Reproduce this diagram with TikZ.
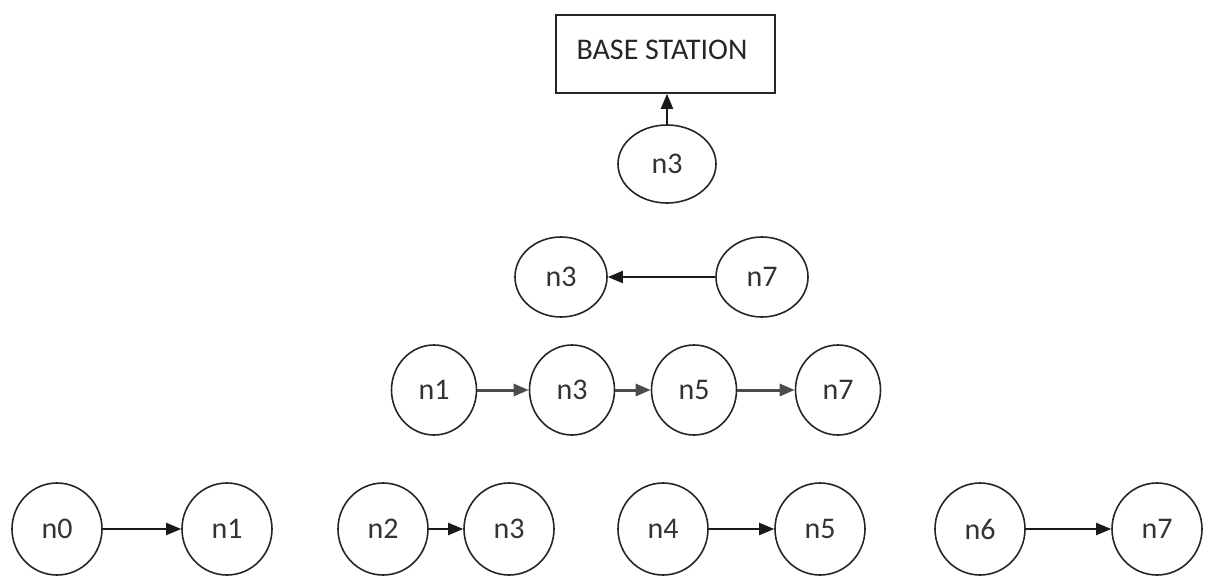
\documentclass[tikz,border=0pt]{standalone}
\usepackage{fontspec}
\setmainfont{Carlito}
\usetikzlibrary{shapes.geometric,arrows.meta}
\begin{document}
\begin{tikzpicture}[x=1pt,y=-1pt,
  label font/.style={font=\fontsize{30}{34}\selectfont},
  sensor/.style={draw=black!85,line width=1.6pt,ellipse,inner sep=0pt,
    minimum width=#1,minimum height=88pt,label font,text=black!80},
  sensor/.default=88pt,
  hop/.style={draw=black!90,line width=2pt,
    -{Triangle[length=15pt,width=12pt]}},
  greyhop/.style={hop,draw=black!70,line width=3pt},
  bsbox/.style={draw=black!85,line width=1.6pt,rectangle,
    minimum width=219pt,minimum height=78pt,inner sep=0pt}]
\useasboundingbox (0,0) rectangle (1207,578);

% base station
\node[bsbox] (bs) at (665.5,54) {};
\node[label font,text=black!85] (bslabel) at (662,50) {BASE STATION};

% level 3: cluster head
\node[sensor=98pt,minimum height=78pt] (t3) at (667,164) {n3};

% level 2
\node[sensor=92pt,minimum height=80pt] (s3) at (561,277) {n3};
\node[sensor=92pt,minimum height=80pt] (s7) at (762,277) {n7};

% level 1
\node[sensor=85pt,minimum height=90pt] (r1) at (434,390) {n1};
\node[sensor=85pt,minimum height=90pt] (r3) at (572,390) {n3};
\node[sensor=85pt,minimum height=90pt] (r5) at (694,390) {n5};
\node[sensor=85pt,minimum height=90pt] (r7) at (838,390) {n7};

% level 0: all sensor nodes
\node[sensor=90pt,minimum height=92pt] (b0) at (57,529) {n0};
\node[sensor=90pt,minimum height=92pt] (b1) at (227,529) {n1};
\node[sensor=90pt,minimum height=92pt] (b2) at (383,529) {n2};
\node[sensor=90pt,minimum height=92pt] (b3) at (509,529) {n3};
\node[sensor=90pt,minimum height=92pt] (b4) at (663,529) {n4};
\node[sensor=90pt,minimum height=92pt] (b5) at (820,529) {n5};
\node[sensor=90pt,minimum height=92pt] (b6) at (980,529) {n6};
\node[sensor=90pt,minimum height=92pt] (b7) at (1157,529) {n7};

% data forwarding
\draw[hop] (t3.north) -- (t3.north |- bs.south);
\draw[hop] (s7.west) -- (s3.east);
\draw[greyhop] (r1.east) -- (r3.west);
\draw[greyhop] (r3.east) -- (r5.west);
\draw[greyhop] (r5.east) -- (r7.west);
\draw[hop] (b0.east) -- (b1.west);
\draw[hop] (b2.east) -- (b3.west);
\draw[hop] (b4.east) -- (b5.west);
\draw[hop] (b6.east) -- (b7.west);
\end{tikzpicture}
\end{document}
